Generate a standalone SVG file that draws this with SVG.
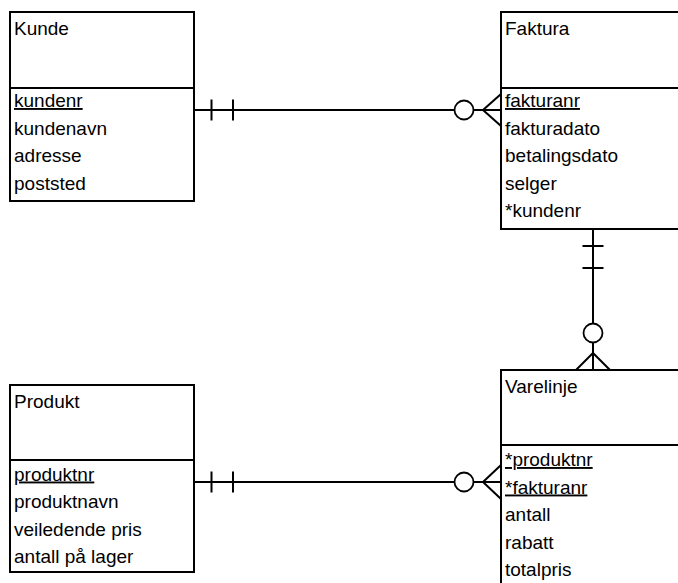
<svg xmlns="http://www.w3.org/2000/svg" width="678" height="583" viewBox="0 0 678 583">
  <style>
    .box { fill: #ffffff; stroke: #000000; stroke-width: 2; }
    .div { stroke: #000000; stroke-width: 2; }
    .title, .attr { font-family: "Liberation Sans", Arial, sans-serif; font-size: 19px; fill: #000000; }
    .key { text-decoration: underline; }
    .rel { fill: none; stroke: #000000; stroke-width: 2; }
    .opt { fill: #ffffff; stroke: #000000; stroke-width: 1.8; }
  </style>
  <rect width="678" height="583" fill="#ffffff"/>

  <!-- relationship lines -->
  <g id="connectors">
    <!-- Kunde (one) to Faktura (zero or many) -->
    <path class="rel" d="M194 110 H455 M211.5 99.5 V120.5 M233 99.5 V120.5 M473 110 H501 M483 110 L501 94 M483 110 L501 126"/>
    <circle class="opt" cx="464" cy="110" r="9.5"/>
    <!-- Faktura (one) to Varelinje (zero or many) -->
    <path class="rel" d="M593 229 V323.5 M582.5 246 H603.5 M582.5 268 H603.5 M593 342.5 V370 M593 353 L576 370 M593 353 L610 370"/>
    <circle class="opt" cx="593" cy="333" r="9.5"/>
    <!-- Produkt (one) to Varelinje (zero or many) -->
    <path class="rel" d="M194 482 H455 M211.5 471.5 V492.5 M233 471.5 V492.5 M473 482 H501 M483 482 L501 465 M483 482 L501 499"/>
    <circle class="opt" cx="464" cy="482" r="9.5"/>
  </g>

  <g id="kunde">
    <rect class="box" x="10" y="12" width="184" height="189"/>
    <line class="div" x1="10" y1="88" x2="194" y2="88"/>
    <text class="title" x="14" y="35">Kunde</text>
    <text class="attr key" x="14" y="107">kundenr</text>
    <text class="attr" x="14" y="134.5">kundenavn</text>
    <text class="attr" x="14" y="162">adresse</text>
    <text class="attr" x="14" y="189.5">poststed</text>
  </g>

  <g id="faktura">
    <rect class="box" x="501" y="12" width="200" height="217"/>
    <line class="div" x1="501" y1="88" x2="701" y2="88"/>
    <text class="title" x="505" y="35">Faktura</text>
    <text class="attr key" x="505" y="107">fakturanr</text>
    <text class="attr" x="505" y="134.5">fakturadato</text>
    <text class="attr" x="505" y="162">betalingsdato</text>
    <text class="attr" x="505" y="189.5">selger</text>
    <text class="attr" x="505" y="217">*kundenr</text>
  </g>

  <g id="produkt">
    <rect class="box" x="10" y="385" width="184" height="187"/>
    <line class="div" x1="10" y1="460" x2="194" y2="460"/>
    <text class="title" x="14" y="408">Produkt</text>
    <text class="attr key" x="14" y="480.5">produktnr</text>
    <text class="attr" x="14" y="508">produktnavn</text>
    <text class="attr" x="14" y="535.5">veiledende pris</text>
    <text class="attr" x="14" y="563">antall på lager</text>
  </g>

  <g id="varelinje">
    <rect class="box" x="501" y="370" width="200" height="230"/>
    <line class="div" x1="501" y1="445" x2="701" y2="445"/>
    <text class="title" x="505" y="393">Varelinje</text>
    <text class="attr key" x="505" y="466">*produktnr</text>
    <text class="attr key" x="505" y="493.5">*fakturanr</text>
    <text class="attr" x="505" y="521">antall</text>
    <text class="attr" x="505" y="548.5">rabatt</text>
    <text class="attr" x="505" y="576">totalpris</text>
  </g>
</svg>
